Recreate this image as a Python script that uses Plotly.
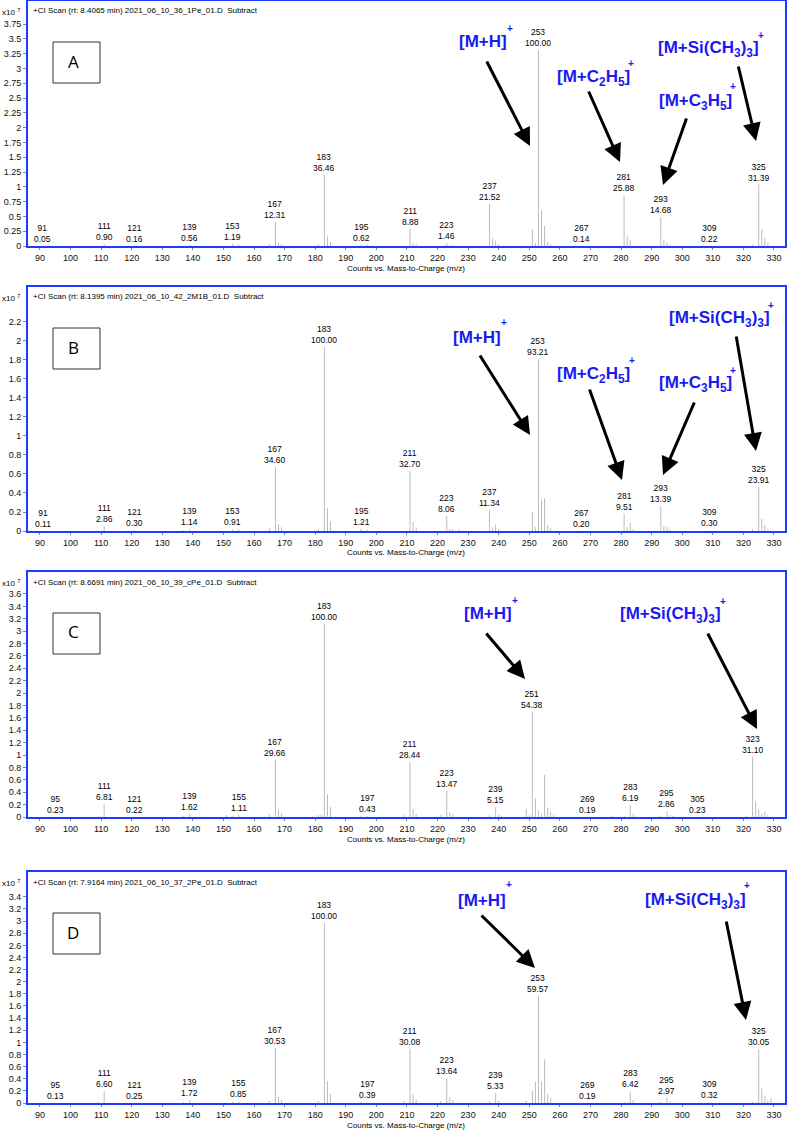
import plotly.graph_objects as go

W, H = 787, 1144
FONT = "Liberation Sans, Arial, sans-serif"
BLUE_AX = "#1e3cff"
BLUE_TX = "#1a1af0"
PEAK = "#bcbcbc"

# ---------------- data (intensity in x10^7 counts) ----------------
# Panel A
A_mz = [91, 111, 121, 139, 153, 155, 165, 167, 168, 169, 181, 183, 184, 185, 195, 197,
        211, 212, 213, 223, 225, 237, 238, 239, 240, 251, 252, 253, 254, 255, 256, 257,
        267, 281, 282, 283, 293, 294, 295, 296, 309, 323, 325, 326, 327, 328]
A_int = [0.002, 0.030, 0.005, 0.019, 0.039, 0.02, 0.03, 0.407, 0.06, 0.03, 0.03, 1.207, 0.16, 0.07, 0.021, 0.02,
         0.294, 0.05, 0.03, 0.048, 0.02, 0.712, 0.13, 0.09, 0.03, 0.28, 0.05, 3.31, 0.60, 0.34, 0.07, 0.03,
         0.005, 0.857, 0.17, 0.11, 0.486, 0.11, 0.06, 0.02, 0.007, 0.02, 1.039, 0.28, 0.14, 0.05]
A_lab_mz = [91, 111, 121, 139, 153, 167, 183, 195, 211, 223, 237, 253, 267, 281, 293, 309, 325]
A_lab_pct = ["0.05", "0.90", "0.16", "0.56", "1.19", "12.31", "36.46", "0.62", "8.88", "1.46",
             "21.52", "100.00", "0.14", "25.88", "14.68", "0.22", "31.39"]

# Panel B
B_mz = [91, 111, 121, 137, 139, 153, 155, 165, 167, 168, 169, 181, 183, 184, 185, 195, 197,
        211, 212, 213, 223, 224, 225, 227, 237, 238, 239, 240, 251, 252, 253, 254, 255, 256, 257,
        267, 281, 282, 283, 284, 293, 294, 295, 296, 309, 323, 325, 326, 327, 328]
B_int = [0.002, 0.055, 0.006, 0.01, 0.022, 0.018, 0.015, 0.03, 0.671, 0.075, 0.04, 0.02, 1.94, 0.24, 0.105, 0.023, 0.015,
         0.634, 0.10, 0.04, 0.156, 0.02, 0.02, 0.015, 0.22, 0.04, 0.07, 0.02, 0.20, 0.04, 1.808, 0.33, 0.345, 0.063, 0.03,
         0.004, 0.184, 0.04, 0.087, 0.02, 0.26, 0.056, 0.045, 0.02, 0.006, 0.02, 0.464, 0.13, 0.06, 0.02]
B_lab_mz = [91, 111, 121, 139, 153, 167, 183, 195, 211, 223, 237, 253, 267, 281, 293, 309, 325]
B_lab_pct = ["0.11", "2.86", "0.30", "1.14", "0.91", "34.60", "100.00", "1.21", "32.70", "8.06",
             "11.34", "93.21", "0.20", "9.51", "13.39", "0.30", "23.91"]

# Panel C
C_mz = [95, 109, 111, 121, 137, 139, 151, 153, 155, 165, 167, 168, 169, 179, 181, 182, 183, 184, 185,
        195, 197, 209, 211, 212, 213, 221, 223, 224, 225, 237, 239, 240, 241, 249, 250, 251, 252, 253,
        254, 255, 256, 257, 258, 269, 277, 281, 283, 284, 285, 293, 295, 296, 297, 305, 321, 323, 324,
        325, 326, 327, 328]
C_int = [0.007, 0.02, 0.212, 0.007, 0.02, 0.05, 0.03, 0.02, 0.035, 0.04, 0.925, 0.12, 0.06, 0.02, 0.03, 0.04, 3.12, 0.37, 0.16,
         0.02, 0.013, 0.03, 0.887, 0.13, 0.05, 0.03, 0.42, 0.08, 0.04, 0.03, 0.16, 0.04, 0.02, 0.13, 0.03, 1.697, 0.30, 0.10,
         0.05, 0.68, 0.145, 0.08, 0.03, 0.006, 0.02, 0.02, 0.193, 0.05, 0.02, 0.02, 0.089, 0.03, 0.02, 0.007, 0.02, 0.97, 0.25,
         0.12, 0.05, 0.09, 0.03]
C_lab_mz = [95, 111, 121, 139, 155, 167, 183, 197, 211, 223, 239, 251, 269, 283, 295, 305, 323]
C_lab_pct = ["0.23", "6.81", "0.22", "1.62", "1.11", "29.66", "100.00", "0.43", "28.44", "13.47",
             "5.15", "54.38", "0.19", "6.19", "2.86", "0.23", "31.10"]

# Panel D
D_mz = [95, 109, 111, 121, 137, 139, 153, 155, 165, 167, 168, 169, 181, 183, 184, 185, 195, 197,
        209, 211, 212, 213, 221, 223, 224, 225, 237, 239, 240, 249, 251, 252, 253, 254, 255, 256, 257,
        269, 281, 283, 284, 293, 295, 296, 309, 323, 325, 326, 327, 328, 329]
D_int = [0.004, 0.02, 0.196, 0.007, 0.02, 0.051, 0.02, 0.025, 0.04, 0.907, 0.10, 0.05, 0.03, 2.97, 0.36, 0.15, 0.02, 0.012,
         0.03, 0.893, 0.14, 0.06, 0.03, 0.405, 0.09, 0.05, 0.03, 0.158, 0.04, 0.04, 0.20, 0.35, 1.769, 0.36, 0.72, 0.15, 0.08,
         0.006, 0.02, 0.191, 0.05, 0.02, 0.088, 0.03, 0.01, 0.02, 0.893, 0.24, 0.12, 0.04, 0.08]
D_lab_mz = [95, 111, 121, 139, 155, 167, 183, 197, 211, 223, 239, 253, 269, 283, 295, 309, 325]
D_lab_pct = ["0.13", "6.60", "0.25", "1.72", "0.85", "30.53", "100.00", "0.39", "30.08", "13.64",
             "5.33", "59.57", "0.19", "6.42", "2.97", "0.32", "30.05"]

headers = [
    "+CI Scan (rt: 8.4065 min) 2021_06_10_36_1Pe_01.D  Subtract",
    "+CI Scan (rt: 8.1395 min) 2021_06_10_42_2M1B_01.D  Subtract",
    "+CI Scan (rt: 8.6691 min) 2021_06_10_39_cPe_01.D  Subtract",
    "+CI Scan (rt: 7.9164 min) 2021_06_10_37_2Pe_01.D  Subtract",
]
panel_letters = ["A", "B", "C", "D"]

A_yticks = [0, 0.25, 0.5, 0.75, 1, 1.25, 1.5, 1.75, 2, 2.25, 2.5, 2.75, 3, 3.25, 3.5, 3.75]
B_yticks = [0, 0.2, 0.4, 0.6, 0.8, 1, 1.2, 1.4, 1.6, 1.8, 2, 2.2]
C_yticks = [0, 0.2, 0.4, 0.6, 0.8, 1, 1.2, 1.4, 1.6, 1.8, 2, 2.2, 2.4, 2.6, 2.8, 3, 3.2, 3.4, 3.6]
D_yticks = [0, 0.2, 0.4, 0.6, 0.8, 1, 1.2, 1.4, 1.6, 1.8, 2, 2.2, 2.4, 2.6, 2.8, 3, 3.2, 3.4]
x_ticks = [90, 100, 110, 120, 130, 140, 150, 160, 170, 180, 190, 200, 210, 220, 230, 240,
           250, 260, 270, 280, 290, 300, 310, 320, 330]

# ---------------- layout helpers ----------------
def px(x):
    return x / W

def py(y):
    return 1 - y / H

panels = [
    dict(mz=A_mz, it=A_int, lmz=A_lab_mz, lpct=A_lab_pct, yt=A_yticks, top=1, bot=246, ymax=4.14),
    dict(mz=B_mz, it=B_int, lmz=B_lab_mz, lpct=B_lab_pct, yt=B_yticks, top=287, bot=531, ymax=2.568),
    dict(mz=C_mz, it=C_int, lmz=C_lab_mz, lpct=C_lab_pct, yt=C_yticks, top=572, bot=817, ymax=3.955),
    dict(mz=D_mz, it=D_int, lmz=D_lab_mz, lpct=D_lab_pct, yt=D_yticks, top=872, bot=1103, ymax=3.81),
]

fig = go.Figure()
annotations = []
shapes = []
layout = dict(
    width=W, height=H, margin=dict(l=0, r=0, t=0, b=0, autoexpand=False),
    paper_bgcolor="white", plot_bgcolor="white", showlegend=False,
    font=dict(family=FONT, color="black"),
)

XL, XR = 28, 785
for i, p in enumerate(panels):
    n = "" if i == 0 else str(i + 1)
    xa, ya = "x" + n, "y" + n
    xs, ys = [], []
    for m, h in zip(p["mz"], p["it"]):
        xs += [m, m, None]
        ys += [0, h, None]
    fig.add_trace(go.Scatter(x=xs, y=ys, mode="lines", xaxis=xa, yaxis=ya,
                             line=dict(color=PEAK, width=1), hoverinfo="skip"))
    lookup = dict(zip(p["mz"], p["it"]))
    for m, pct in zip(p["lmz"], p["lpct"]):
        annotations.append(dict(x=m, y=lookup[m], xref=xa, yref=ya, text=f"{m}<br>{pct}",
                                showarrow=False, yanchor="bottom", xanchor="center", yshift=0,
                                font=dict(size=8.5, family=FONT, color="black")))
    dom_y = [py(p["bot"]), py(p["top"])]
    layout["xaxis" + n] = dict(
        domain=[px(XL), px(XR)], range=[86.1, 333.6], anchor=ya, automargin=False,
        tickvals=x_ticks, ticks="outside", ticklen=2, tickcolor="#888",
        showline=True, linecolor=BLUE_AX, linewidth=2, mirror=True,
        showgrid=False, zeroline=False, tickfont=dict(size=9, family=FONT, color="#111"),
    )
    layout["yaxis" + n] = dict(
        domain=dom_y, range=[0, p["ymax"]], anchor=xa, automargin=False,
        tickvals=p["yt"], ticktext=[f"{v:g}" for v in p["yt"]],
        ticks="outside", ticklen=3, tickcolor="#888",
        showline=True, linecolor=BLUE_AX, linewidth=2, mirror=True,
        showgrid=False, zeroline=False, tickfont=dict(size=9, family=FONT, color="#111"),
    )
    top, bot = p["top"], p["bot"]
    # header text
    annotations.append(dict(x=px(31), y=py(top + 10), xref="paper", yref="paper",
                            text=headers[i], showarrow=False, xanchor="left", yanchor="middle",
                            font=dict(size=8, family=FONT, color="black")))
    annotations.append(dict(x=px(0), y=py(top + 11), xref="paper", yref="paper",
                            text="x10 <sup>7</sup>", showarrow=False, xanchor="left", yanchor="middle",
                            font=dict(size=8, family=FONT, color="black")))
    # x axis title
    annotations.append(dict(x=px((XL + XR) / 2), y=py(bot + 22), xref="paper", yref="paper",
                            text="Counts vs. Mass-to-Charge (m/z)", showarrow=False,
                            xanchor="center", yanchor="middle",
                            font=dict(size=8, family=FONT, color="black")))
    # letter box
    bx0, by0 = 53, top + 41
    shapes.append(dict(type="rect", xref="paper", yref="paper",
                       x0=px(bx0), x1=px(bx0 + 47), y0=py(by0), y1=py(by0 + 41),
                       line=dict(color="#333", width=1), fillcolor="white"))
    annotations.append(dict(x=px(bx0 + 20), y=py(by0 + 19), xref="paper", yref="paper",
                            text=panel_letters[i], showarrow=False, xanchor="center", yanchor="middle",
                            font=dict(size=17, family="Open Sans, Liberation Sans", color="black")))

# ---------------- ion labels & arrows (pixel positions) ----------------
ion_labels = {
    "MH": "<b>[M+H]</b>",
    "C2": "<b>[M+C<sub>2</sub>H<sub>5</sub>]</b>",
    "C3": "<b>[M+C<sub>3</sub>H<sub>5</sub>]</b>",
    "Si": "<b>[M+Si(CH<sub>3</sub>)<sub>3</sub>]</b>",
}
# (key, label center x, y, plus x, y, arrow tail x, y, arrow tip x, y)
callouts = [
    ("MH", 483, 42, 510, 29, 486, 60, 530, 146),
    ("C2", 593, 78, 631, 63, 588, 90, 620, 162),
    ("C3", 695, 102, 733, 87, 687, 117, 663, 185),
    ("Si", 708, 49, 761, 35, 738, 65, 756, 141),
    ("MH", 477, 337, 504, 323, 479, 354, 530, 435),
    ("C2", 593, 375, 632, 360, 589, 388, 622, 480),
    ("C3", 695, 384, 733, 370, 695, 401, 663, 475),
    ("Si", 719, 319, 771, 305, 736, 335, 756, 451),
    ("MH", 488, 613, 515, 600, 485, 632, 525, 679),
    ("Si", 670, 615, 723, 601, 707, 632, 757, 729),
    ("MH", 482, 900, 509, 884, 480, 914, 535, 968),
    ("Si", 695, 901, 747, 885, 726, 920, 746, 1020),
]
for key, lx, ly, plx, ply, tx, ty, hx, hy in callouts:
    annotations.append(dict(x=px(lx), y=py(ly), xref="paper", yref="paper", text=ion_labels[key],
                            showarrow=False, xanchor="center", yanchor="middle",
                            font=dict(size=17, family=FONT, color=BLUE_TX)))
    annotations.append(dict(x=px(plx), y=py(ply), xref="paper", yref="paper", text="<b>+</b>",
                            showarrow=False, xanchor="center", yanchor="middle",
                            font=dict(size=10, family=FONT, color=BLUE_TX)))
    annotations.append(dict(x=px(hx), y=py(hy), xref="paper", yref="paper", text="",
                            showarrow=True, arrowhead=2, arrowsize=1.2, arrowwidth=3,
                            arrowcolor="black", ax=tx - hx, ay=ty - hy, standoff=0))

layout["annotations"] = annotations
layout["shapes"] = shapes
fig.update_layout(**layout)
fig.write_html("out.html", config={"displayModeBar": False},
               post_script="document.body.style.margin='0';document.body.style.overflow='hidden';")
